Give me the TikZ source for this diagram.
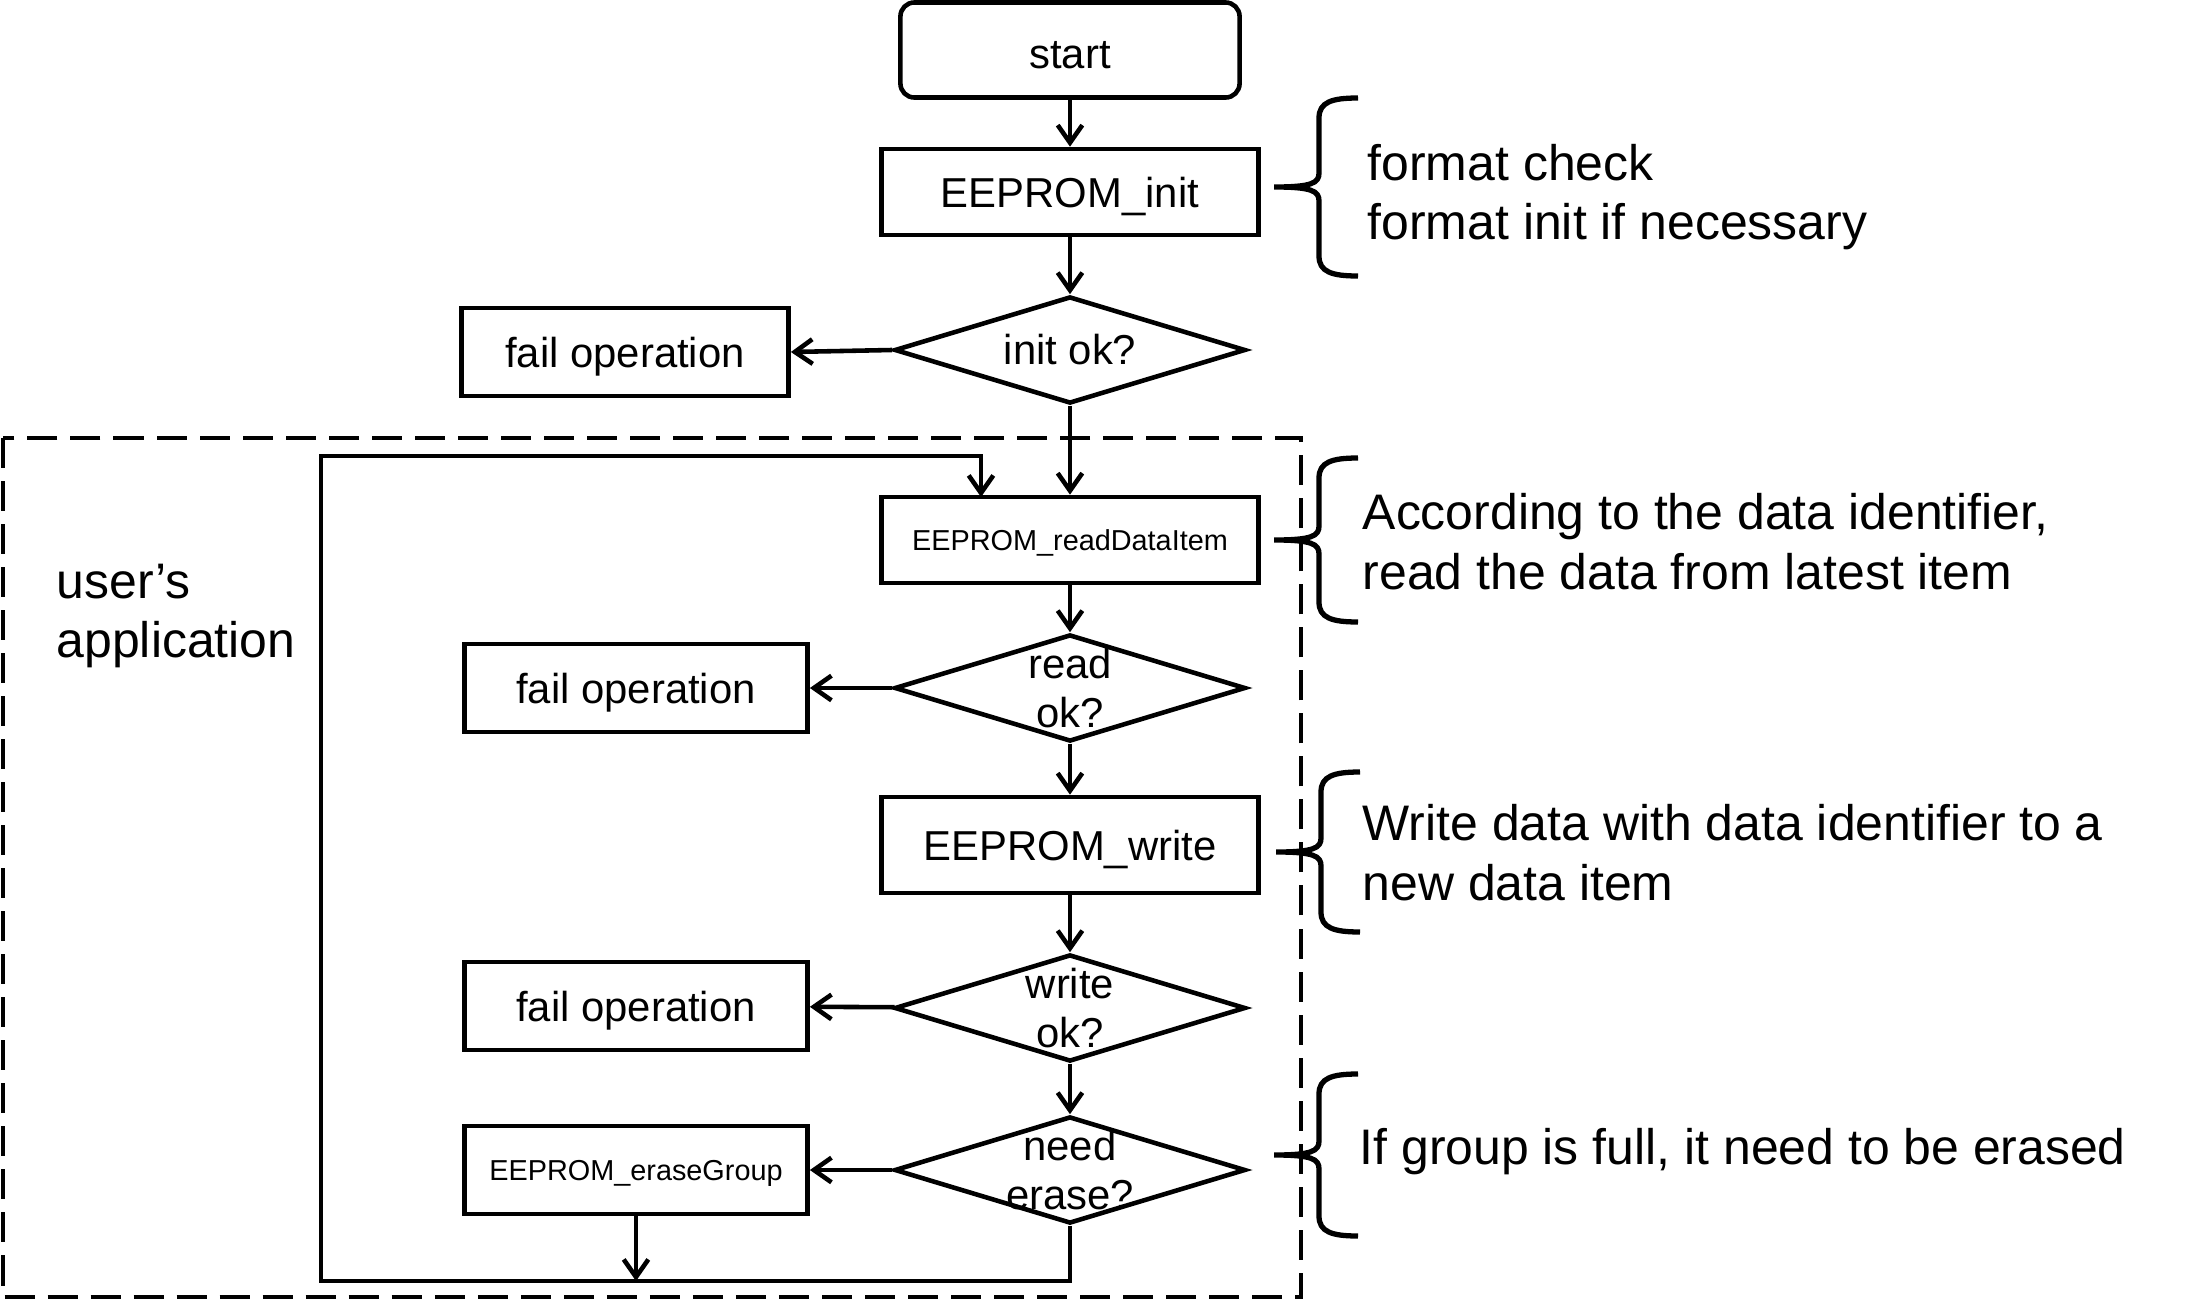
\documentclass[tikz,border=0pt]{standalone}
\usepackage{fontspec}
\setmainfont{Liberation Sans}
\usetikzlibrary{arrows.meta,positioning,shapes.geometric}

\newcommand{\boxfont}{\fontsize{11.9}{13.9}\selectfont}
\newcommand{\tinyboxfont}{\fontsize{8.2}{10}\selectfont}
\newcommand{\notefont}{\fontsize{14.2}{17}\selectfont}

\tikzset{
  pics/sidebrace/.style={code={
    \draw[line width=1.5pt] (84,-#1) .. controls (58,-#1) and (45,-#1+4) .. (45,-#1+20)
      -- (45,-14) .. controls (45,-4) and (38,0) .. (0,0)
      .. controls (38,0) and (45,4) .. (45,14)
      -- (45,#1-20) .. controls (45,#1-4) and (58,#1) .. (84,#1);
  }}
}

\begin{document}
\begin{tikzpicture}[
  x=0.01cm, y=-0.01cm,
  procbox/.style={draw, rectangle, line width=1.3pt, minimum width=3.77cm, minimum height=0.86cm, text depth=0pt, font=\boxfont},
  failbox/.style={draw, rectangle, line width=1.3pt, minimum width=3.43cm, minimum height=0.88cm, text depth=0pt, font=\boxfont},
  startnode/.style={draw, rectangle, rounded corners=0.14cm, line width=1.3pt, minimum width=3.39cm, minimum height=0.95cm, text height=0.36cm, text depth=0pt, font=\boxfont},
  decision/.style={draw, diamond, line width=1.3pt, inner sep=0pt, minimum width=3.51cm, minimum height=1.07cm},
  dtext/.style={align=center, font=\boxfont, inner sep=0pt},
  note/.style={anchor=west, align=left, font=\notefont, inner sep=0pt},
  arrow/.style={-{Straight Barb[length=5pt,width=7pt]}, line width=1.3pt},
  groupbox/.style={dash pattern=on 0.3cm off 0.13cm, line width=1.1pt}
]
\useasboundingbox (0,0) rectangle (2196,1312);

% main column
\node[startnode] (start) at (1070,50) {start};
\node[procbox] (init) at (1070,192) {EEPROM\_init};
\node[decision, label={[dtext]center:init ok?}] (initok) at (1070,350) {};
\node[failbox, minimum width=3.27cm] (fail1) at (625,352) {fail operation};

\node[procbox, font=\tinyboxfont] (read) at (1070,540) {EEPROM\_readDataItem};
\node[decision, label={[dtext]center:{read\\ok?}}] (readok) at (1070,688) {};
\node[failbox] (fail2) at (636,688) {fail operation};

\node[procbox, minimum height=0.96cm] (write) at (1070,845) {EEPROM\_write};
\node[decision, label={[dtext]center:{write\\ok?}}] (writeok) at (1070,1008) {};
\node[failbox] (fail3) at (636,1006) {fail operation};

\node[decision, label={[dtext]center:{need\\erase?}}] (erase) at (1070,1170) {};
\node[failbox, font=\tinyboxfont] (egroup) at (636,1170) {EEPROM\_eraseGroup};

\draw[arrow] (start) -- (init);
\draw[arrow] (init) -- (initok);
\draw[arrow] (initok.west) -- (fail1.east);
\draw[arrow] (initok) -- (read);
\draw[arrow] (read) -- (readok);
\draw[arrow] (readok) -- (fail2);
\draw[arrow] (readok) -- (write);
\draw[arrow] (write) -- (writeok);
\draw[arrow] (writeok) -- (fail3);
\draw[arrow] (writeok) -- (erase);
\draw[arrow] (erase) -- (egroup);

% loop back to reading
\coordinate (loopbl) at (321,1281);
\coordinate (looptl) at (321,456);
\coordinate (readin) at (981,497);
\draw[arrow] (erase.south) |- (loopbl) -- (looptl) -| (readin);
\draw[arrow] (egroup.south) -- (egroup.south |- loopbl);

% user's application
\draw[groupbox] (3,438) rectangle (1301,1297);
\node[note] (appnote) at (56,616) {user’s\\application};

% notes
\pic at (1274,187) {sidebrace=89};
\node[note] (initnote) at (1367,197) {format check\\format init if necessary};
\pic at (1274,540) {sidebrace=82};
\node[note] (readnote) at (1362,542) {According to the data identifier,\\read the data from latest item};
\pic at (1276,852) {sidebrace=80};
\node[note] (writenote) at (1362,853) {Write data with data identifier to a\\new data item};
\pic at (1274,1155) {sidebrace=81};
\node[note] (erasenote) at (1359,1152) {If group is full, it need to be erased};
\end{tikzpicture}
\end{document}
